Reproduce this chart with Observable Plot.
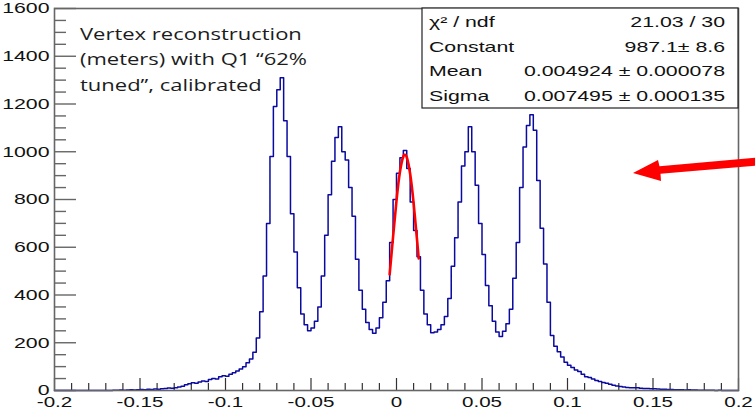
<!DOCTYPE html>
<html><head><meta charset="utf-8">
<script src="https://cdn.jsdelivr.net/npm/d3@7"></script>
<script src="https://cdn.jsdelivr.net/npm/@observablehq/plot@0.6"></script>
<style>body{margin:0;background:#fff}#chart{width:755px;height:411px;overflow:hidden}</style>
</head><body><div id="chart"></div>
<script>
// Histogram: uniform bins of width 0.002 from -0.2 to 0.2 (200 bins)
const xMin = -0.2;
const binWidth = 0.002;
const counts = [
  0,0,0,0,0,0,0,0,0,0,
  0,0,0,0,0,0,0,1,1,2,
  1,2,3,2,3,4,3,5,4,6,
  5,7,8,10,9,12,15,18,24,28,
  32,30,36,40,38,46,50,48,58,62,
  60,68,74,82,90,100,116,132,160,220,
  330,480,700,980,1190,1260,1310,1130,980,740,
  580,430,320,275,250,262,290,350,480,650,
  820,960,1060,1105,1000,965,850,730,550,420,
  340,285,255,240,262,305,370,460,620,800,
  910,975,1005,930,790,670,560,420,320,275,
  242,245,255,275,310,385,520,640,790,940,
  1000,1105,1000,860,700,570,440,355,290,245,
  226,248,280,340,470,620,850,1020,1110,1155,
  1090,880,680,530,370,230,185,162,140,118,
  106,96,86,80,68,58,54,48,42,38,
  34,30,26,22,19,17,15,13,12,11,
  11,9,8,8,7,7,6,5,5,4,
  4,3,3,3,2,3,2,2,1,1,
  1,1,1,0,1,0,0,0,0,0
];
// Gaussian fit curve (red)
const fitX = [-0.004,-0.002,0,0.002,0.004,0.005,0.006,0.008,0.010,0.012,0.013];
const fitY = [486,644,795,915,980,987,977,907,785,632,553];

const xTicks = [-0.2,-0.15,-0.1,-0.05,0,0.05,0.1,0.15,0.2];
const xTickLabels = ["-0.2","-0.15","-0.1","-0.05","0","0.05","0.1","0.15","0.2"];
const yTicks = [0,200,400,600,800,1000,1200,1400,1600];
const yTickLabels = ["0","200","400","600","800","1000","1200","1400","1600"];

const statsLabels = ["\u03c7\u00b2 / ndf","Constant","Mean","Sigma"];
const statsValues = ["21.03 / 30","987.1\u00b1 8.6","0.004924 \u00b1 0.000078","0.007495 \u00b1 0.000135"];
const noteLines = ["Vertex reconstruction","(meters) with Q1 \u201c62%","tuned\u201d, calibrated"];

const W = 755, H = 411, mL = 54, mR = 17, mT = 8, mB = 21;
const innerW = W - mL - mR, innerH = H - mT - mB;
const SX = 1.42; // horizontal stretch of the text in the reference

const histPts = counts.map((c, i) => ({x: xMin + i * binWidth, y: c}));
histPts.push({x: xMin + counts.length * binWidth, y: counts[counts.length - 1]});
const fitPts = fitX.map((x, i) => ({x, y: fitY[i]}));

const xMinor = d3.range(41).filter(i => i % 5 !== 0).map(i => -0.2 + i * 0.01);
const yMinor = d3.range(33).filter(i => i % 4 !== 0).map(i => i * 50);

const chart = Plot.plot({
  width: W, height: H,
  marginLeft: mL, marginRight: mR, marginTop: mT, marginBottom: mB,
  style: {fontFamily: "'Liberation Sans', Arial, sans-serif", fontSize: "15px", color: "#111", background: "#fff"},
  x: {domain: [-0.2, 0.2]},
  y: {domain: [0, 1600]},
  marks: [
    Plot.axisX({ticks: xTicks, tickSize: 0, tickPadding: 6, tickFormat: (d) => xTickLabels[xTicks.indexOf(d)], label: null, fontSize: 14.5}),
    Plot.axisY({ticks: yTicks, tickSize: 0, tickPadding: 5, tickFormat: (d) => yTickLabels[yTicks.indexOf(d)], label: null, fontSize: 15}),
    Plot.ruleX(xTicks, {x: d => d, insetTop: innerH - 12, stroke: "#333", strokeWidth: 1.2}),
    Plot.ruleX(xMinor, {x: d => d, insetTop: innerH - 7, stroke: "#333", strokeWidth: 1.2}),
    Plot.ruleY(yTicks, {y: d => d, insetRight: innerW - 22, stroke: "#666", strokeWidth: 1.4}),
    Plot.ruleY(yMinor, {y: d => d, insetRight: innerW - 12, stroke: "#666", strokeWidth: 1.4}),
    Plot.line(histPts, {x: "x", y: "y", curve: "step-after", stroke: "#0a0aa0", strokeWidth: 1.5}),
    Plot.line(fitPts, {x: "x", y: "y", curve: "natural", stroke: "#ff0000", strokeWidth: 2.6}),
    Plot.frame({stroke: "#666", strokeWidth: 1.6})
  ]
});

// Stretch the axis tick labels horizontally, like the reference
d3.select(chart).selectAll("text").each(function() {
  const t = this.getAttribute("transform") || "";
  this.setAttribute("transform", `${t} scale(${SX},1)`);
});

const svg = d3.select(chart);

// Annotation text
const note = svg.append("g").attr("fill", "#1c1c1c").attr("text-anchor", "start")
  .attr("font-family", "'Open Sans', sans-serif").attr("font-size", 15.5);
noteLines.forEach((s, i) => {
  note.append("text").attr("text-anchor", "start")
    .attr("transform", `translate(80,${39.5 + i * 25.5}) scale(${SX},1)`).text(s);
});

// Stats box
const box = svg.append("g");
box.append("rect").attr("x", 422).attr("y", mT).attr("width", W - mR - 422).attr("height", 100)
  .attr("fill", "#fff").attr("stroke", "#222").attr("stroke-width", 1.2);
const bt = box.append("g").attr("font-family", "'Liberation Sans', Arial, sans-serif").attr("font-size", 15).attr("fill", "#111");
statsLabels.forEach((s, i) => {
  bt.append("text").attr("text-anchor", "start")
    .attr("transform", `translate(429,${27 + i * 24.5}) scale(${SX},1)`).text(s);
  bt.append("text").attr("text-anchor", "end")
    .attr("transform", `translate(725,${27 + i * 24.5}) scale(${SX},1)`).text(statsValues[i]);
});

// Red arrow
svg.append("polygon")
  .attr("points", "633,173 658,160 659.5,166.3 755,157.7 755,165.7 660.5,173.8 661,181")
  .attr("fill", "#ff0000");

document.getElementById("chart").appendChild(chart);
</script>
</body></html>
